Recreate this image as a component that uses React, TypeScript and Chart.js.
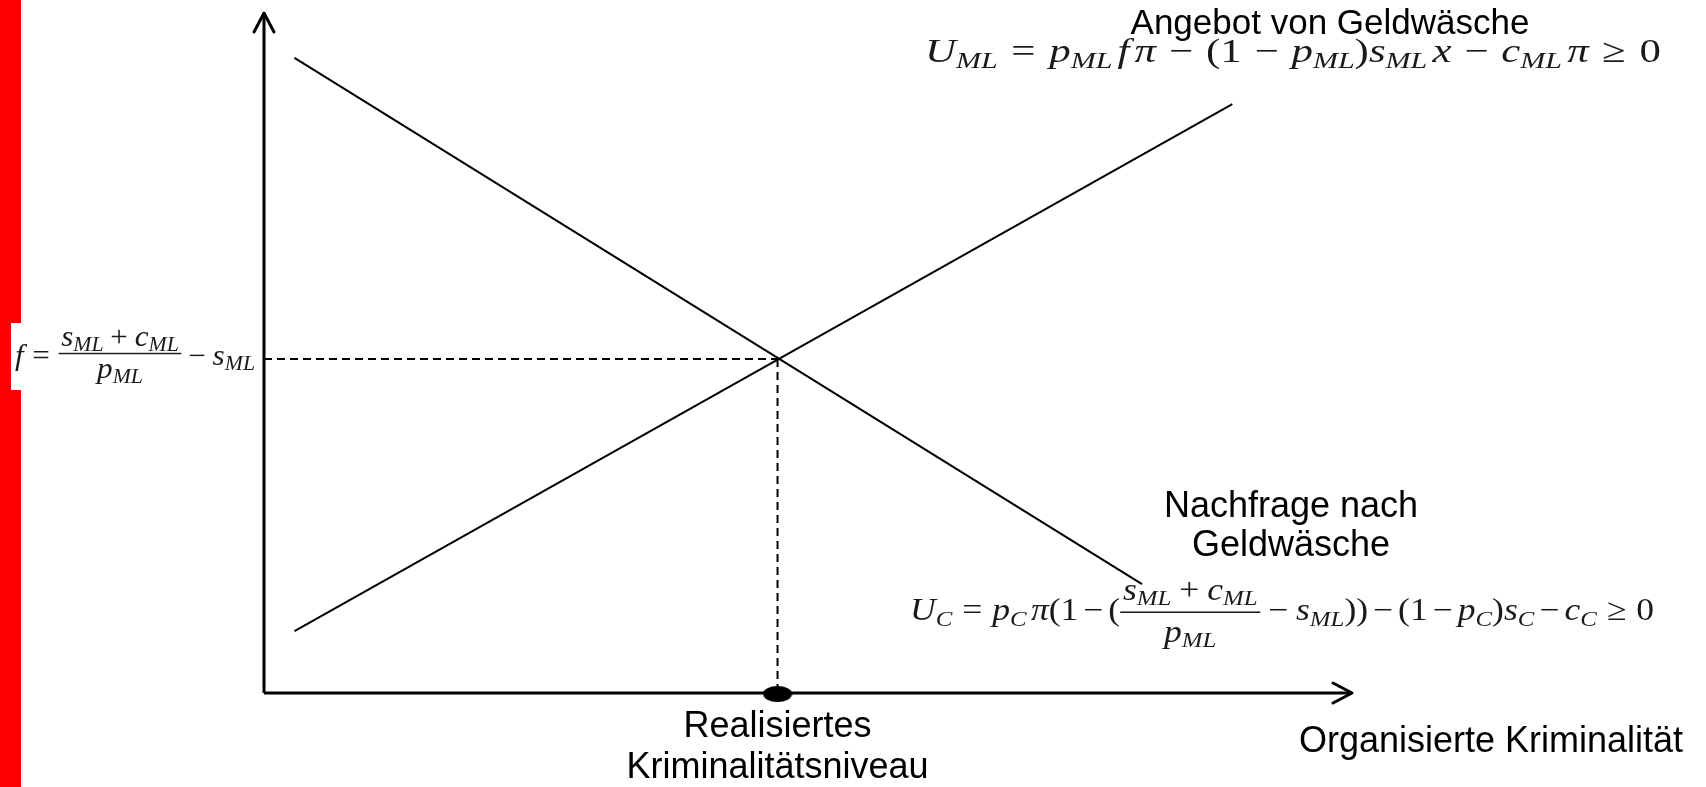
import React, { useEffect, useRef } from "react";
import { Chart, registerables } from "chart.js";

Chart.register(...registerables);

// ---------------- data (chart units: 0..100 on both axes) ----------------
const axisXRange = [0, 100]; // horizontal axis: origin -> arrow tip
const axisYRange = [0, 100]; // vertical axis: origin -> arrow tip
const demandX = [2.8, 80.7];
const demandY = [93.4, 16.0];
const supplyX = [2.8, 89.0];
const supplyY = [9.1, 86.6];
const equilibriumX = 47.2;
const equilibriumY = 49.1;

// ---------------- texts ----------------
const supplyTitle = ["Angebot von Geldwäsche"];
const demandTitle = ["Nachfrage nach", "Geldwäsche"];
const xAxisTitle = ["Organisierte Kriminalität"];
const equilibriumLabel = ["Realisiertes", "Kriminalitätsniveau"];

// math tokens
type Tok =
  | { k: "i" | "r" | "s"; s: string }
  | { k: "sp"; w: number }
  | { k: "f"; n: Tok[]; d: Tok[] };
const I = (s: string): Tok => ({ k: "i", s });
const R = (s: string): Tok => ({ k: "r", s });
const S = (s: string): Tok => ({ k: "s", s });
const SP = (w: number): Tok => ({ k: "sp", w });
const F = (n: Tok[], d: Tok[]): Tok => ({ k: "f", n, d });
const REL = 0.28;
const BIN = 0.22;
const TIGHT = 0.14;
const THIN = 0.12;
const WREL = 0.32;
const WBIN = 0.3;

const fracNum = (b: number): Tok[] => [I("s"), S("ML"), SP(b), R("+"), SP(b), I("c"), S("ML")];
const fracDen: Tok[] = [I("p"), S("ML")];

const priceFormula: Tok[] = [
  I("f"), SP(REL), R("="), SP(REL),
  F(fracNum(BIN), fracDen),
  SP(BIN), R("−"), SP(BIN), I("s"), S("ML"),
];
const supplyFormula: Tok[] = [
  I("U"), S("ML"), SP(WREL), R("="), SP(WREL),
  I("p"), S("ML"), SP(THIN), I("f"), SP(THIN), I("π"), SP(WBIN), R("−"), SP(WBIN),
  R("(1"), SP(WBIN), R("−"), SP(WBIN), I("p"), S("ML"), R(")"),
  I("s"), S("ML"), SP(THIN), I("x"), SP(WBIN), R("−"), SP(WBIN),
  I("c"), S("ML"), SP(THIN), I("π"), SP(WREL), R("≥"), SP(WREL), R("0"),
];
const demandFormula: Tok[] = [
  I("U"), S("C"), SP(REL), R("="), SP(REL),
  I("p"), S("C"), SP(THIN), I("π"), R("(1"), SP(TIGHT), R("−"), SP(TIGHT), R("("),
  F(fracNum(BIN), fracDen),
  SP(BIN), R("−"), SP(BIN), I("s"), S("ML"), R("))"),
  SP(TIGHT), R("−"), SP(TIGHT), R("(1"), SP(TIGHT), R("−"), SP(TIGHT),
  I("p"), S("C"), R(")"), I("s"), S("C"), SP(TIGHT), R("−"), SP(TIGHT),
  I("c"), S("C"), SP(REL), R("≥"), SP(REL), R("0"),
];

// ---------------- rendering helpers ----------------
const MATH_FONT = '"Liberation Serif", "DejaVu Serif", serif';
const LABEL_FONT = '"Liberation Sans", Arial, sans-serif';

type FracStyle = { barUp: number; numUp: number; denDown: number };

function fontFor(k: string, size: number) {
  if (k === "i") return `italic ${size}px ${MATH_FONT}`;
  if (k === "s") return `italic ${size * 0.7}px ${MATH_FONT}`;
  return `${size}px ${MATH_FONT}`;
}

function layoutMath(
  ctx: CanvasRenderingContext2D,
  toks: Tok[],
  size: number,
  x: number,
  y: number,
  draw: boolean,
  fs: FracStyle
): number {
  let cx = x;
  for (const t of toks) {
    if (t.k === "sp") {
      cx += t.w * size;
      continue;
    }
    if (t.k === "f") {
      const nw = layoutMath(ctx, t.n, size, 0, 0, false, fs);
      const dw = layoutMath(ctx, t.d, size, 0, 0, false, fs);
      const pad = 0.08 * size;
      const w = Math.max(nw, dw) + 2 * pad;
      if (draw) {
        const bar = y - fs.barUp * size;
        ctx.fillRect(cx, bar - 0.025 * size, w, 0.05 * size);
        layoutMath(ctx, t.n, size, cx + (w - nw) / 2, bar - fs.numUp * size, true, fs);
        layoutMath(ctx, t.d, size, cx + (w - dw) / 2, bar + fs.denDown * size, true, fs);
      }
      cx += w;
      continue;
    }
    ctx.font = fontFor(t.k, size);
    const dy = t.k === "s" ? 0.18 * size : 0;
    if (draw) ctx.fillText(t.s, cx, y + dy);
    cx += ctx.measureText(t.s).width;
  }
  return cx - x;
}

function drawMath(
  ctx: CanvasRenderingContext2D,
  toks: Tok[],
  size: number,
  left: number,
  right: number,
  baseline: number,
  fs: FracStyle
) {
  ctx.save();
  ctx.textAlign = "left";
  ctx.textBaseline = "alphabetic";
  ctx.fillStyle = "#1a1a1a";
  const natural = layoutMath(ctx, toks, size, 0, 0, false, fs);
  const sx = (right - left) / natural;
  ctx.translate(left, 0);
  ctx.scale(sx, 1);
  layoutMath(ctx, toks, size, 0, baseline, true, fs);
  ctx.restore();
}

function drawLines(ctx: CanvasRenderingContext2D, lines: string[], cx: number, baseline: number, gap: number, size: number) {
  ctx.save();
  ctx.fillStyle = "#000";
  ctx.font = `${size}px ${LABEL_FONT}`;
  ctx.textAlign = "center";
  ctx.textBaseline = "alphabetic";
  lines.forEach((l, i) => ctx.fillText(l, cx, baseline + i * gap));
  ctx.restore();
}

function makeDot(): HTMLCanvasElement {
  const c = document.createElement("canvas");
  c.width = 30;
  c.height = 20;
  const g = c.getContext("2d")!;
  g.fillStyle = "#000";
  g.beginPath();
  g.ellipse(15, 11, 14.5, 8, 0, 0, Math.PI * 2);
  g.fill();
  return c;
}

const decorPlugin = {
  id: "decor",
  beforeDraw(chart: any) {
    const ctx: CanvasRenderingContext2D = chart.ctx;
    ctx.save();
    ctx.fillStyle = "#fff";
    ctx.fillRect(0, 0, chart.width, chart.height);
    ctx.fillStyle = "#ff0000";
    ctx.fillRect(0, 0, 21, chart.height);
    ctx.restore();
  },
  afterDatasetsDraw(chart: any) {
    const ctx: CanvasRenderingContext2D = chart.ctx;
    const xs = chart.scales.x;
    const ys = chart.scales.y;
    const ox = xs.getPixelForValue(axisXRange[0]);
    const oy = ys.getPixelForValue(axisYRange[0]);
    const xTip = xs.getPixelForValue(axisXRange[1]);
    const yTip = ys.getPixelForValue(axisYRange[1]);

    // arrow heads
    ctx.save();
    ctx.strokeStyle = "#000";
    ctx.lineWidth = 3;
    ctx.lineCap = "round";
    ctx.lineJoin = "round";
    ctx.beginPath();
    ctx.moveTo(ox - 10, yTip + 19);
    ctx.lineTo(ox, yTip);
    ctx.lineTo(ox + 10, yTip + 19);
    ctx.moveTo(xTip - 19, oy - 10);
    ctx.lineTo(xTip, oy);
    ctx.lineTo(xTip - 19, oy + 10);
    ctx.stroke();
    ctx.restore();

    // white box behind the price formula
    ctx.save();
    ctx.fillStyle = "#fff";
    ctx.fillRect(11, 323, ox - 13, 67);
    ctx.restore();

    const eqPx = xs.getPixelForValue(equilibriumX);
    const eqPy = ys.getPixelForValue(equilibriumY);

    drawMath(ctx, priceFormula, 29, 15, 255, eqPy + 6, { barUp: 0.4, numUp: 0.25, denDown: 0.85 });
    drawMath(ctx, supplyFormula, 34, 925, 1661, 62, { barUp: 0.3, numUp: 0.3, denDown: 0.8 });
    drawMath(ctx, demandFormula, 31, 910, 1654, 620, { barUp: 0.25, numUp: 0.4, denDown: 0.95 });

    drawLines(ctx, supplyTitle, 1330, 34, 40, 35);
    drawLines(ctx, demandTitle, 1291, 517, 39, 36);
    drawLines(ctx, equilibriumLabel, eqPx, 737, 41, 36);
    drawLines(ctx, xAxisTitle, 1491, 752, 40, 36);
  },
};

export default function App() {
  const ref = useRef<HTMLCanvasElement>(null);

  useEffect(() => {
    if (!ref.current) return;
    const seg = (xa: number[], ya: number[]) => xa.map((x, i) => ({ x, y: ya[i] }));
    const lineDs = (data: any[], width: number, dash: number[] = []) => ({
      type: "line" as const,
      data,
      borderColor: "#000",
      borderWidth: width,
      borderDash: dash,
      pointRadius: 0,
      showLine: true,
      fill: false,
      tension: 0,
      clip: false as any,
      borderCapStyle: "butt" as const,
    });

    const chart = new Chart(ref.current, {
      type: "scatter",
      data: {
        datasets: [
          {
            type: "scatter",
            data: [{ x: equilibriumX, y: axisYRange[0] }],
            pointStyle: makeDot() as any,
            pointRadius: 8,
            clip: false as any,
          } as any,
          lineDs(seg([axisXRange[0], axisXRange[1]], [axisYRange[0], axisYRange[0]]), 3),
          lineDs(seg([axisXRange[0], axisXRange[0]], [axisYRange[0], axisYRange[1]]), 3),
          lineDs(seg(demandX, demandY), 2),
          lineDs(seg(supplyX, supplyY), 2),
          lineDs(seg([axisXRange[0], equilibriumX], [equilibriumY, equilibriumY]), 2, [8, 5]),
          lineDs(seg([equilibriumX, equilibriumX], [equilibriumY, axisYRange[0]]), 2, [8, 5]),
        ],
      },
      options: {
        responsive: false,
        animation: false,
        devicePixelRatio: 1,
        layout: { padding: { left: 264, right: 354, top: 13, bottom: 94 } },
        scales: {
          x: { type: "linear", min: axisXRange[0], max: axisXRange[1], display: false },
          y: { type: "linear", min: axisYRange[0], max: axisYRange[1], display: false },
        },
        plugins: { legend: { display: false }, tooltip: { enabled: false } },
        events: [],
      },
      plugins: [decorPlugin],
    });
    return () => chart.destroy();
  }, []);

  return (
    <div style={{ position: "fixed", left: 0, top: 0, width: 1706, height: 787, background: "#fff" }}>
      <canvas ref={ref} width={1706} height={787} style={{ display: "block" }} />
    </div>
  );
}
